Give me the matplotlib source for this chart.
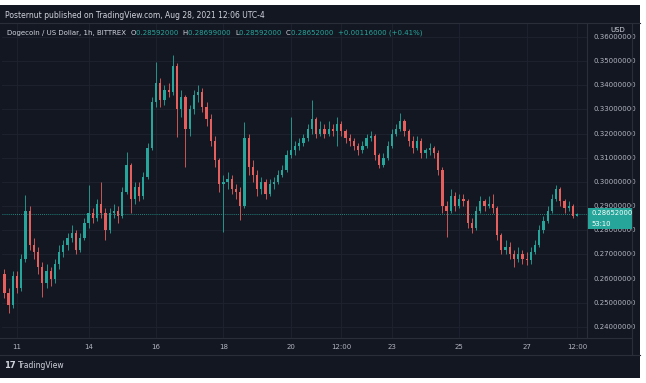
import numpy as np
import matplotlib
matplotlib.use("Agg")
import matplotlib.pyplot as plt
from matplotlib.patches import Rectangle
from matplotlib.transforms import blended_transform_factory

# 3-hour candles, hours relative to Aug 14 00:00
first_open = 0.262
close = [0.254, 0.249, 0.261, 0.256, 0.268, 0.288, 0.274, 0.271, 0.265, 0.258,
         0.263, 0.260, 0.266, 0.271, 0.274, 0.277, 0.279, 0.272, 0.277, 0.283,
         0.287, 0.285, 0.291, 0.287, 0.280, 0.287, 0.288, 0.286, 0.296, 0.307,
         0.293, 0.298, 0.294, 0.302, 0.314, 0.333, 0.341, 0.334, 0.338, 0.337,
         0.348, 0.330, 0.335, 0.322, 0.330, 0.336, 0.337, 0.331, 0.326, 0.317,
         0.309, 0.299, 0.300, 0.301, 0.297, 0.296, 0.290, 0.318, 0.306, 0.303,
         0.297, 0.300, 0.295, 0.299, 0.300, 0.303, 0.305, 0.311, 0.313, 0.315,
         0.316, 0.318, 0.322, 0.326, 0.320, 0.322, 0.320, 0.322, 0.321, 0.324,
         0.321, 0.318, 0.317, 0.315, 0.313, 0.315, 0.318, 0.319, 0.311, 0.307,
         0.310, 0.315, 0.320, 0.322, 0.325, 0.321, 0.317, 0.314, 0.317, 0.312,
         0.313, 0.314, 0.312, 0.305, 0.290, 0.288, 0.294, 0.290, 0.293, 0.292,
         0.283, 0.281, 0.288, 0.292, 0.290, 0.291, 0.289, 0.278, 0.272, 0.273,
         0.270, 0.268, 0.270, 0.268, 0.2675, 0.271, 0.274, 0.280, 0.284, 0.288,
         0.293, 0.297, 0.292, 0.289, 0.290, 0.28592, 0.28652]
high = [0.264, 0.256, 0.263, 0.263, 0.270, 0.2946, 0.290, 0.277, 0.273, 0.267,
        0.266, 0.265, 0.268, 0.274, 0.276, 0.279, 0.2822, 0.280, 0.279, 0.285,
        0.2987, 0.289, 0.293, 0.300, 0.289, 0.289, 0.291, 0.290, 0.298, 0.3124,
        0.308, 0.300, 0.300, 0.304, 0.316, 0.335, 0.3496, 0.343, 0.340, 0.341,
        0.3525, 0.349, 0.338, 0.336, 0.332, 0.338, 0.340, 0.339, 0.333, 0.328,
        0.319, 0.310, 0.303, 0.304, 0.303, 0.299, 0.298, 0.3248, 0.320, 0.309,
        0.305, 0.302, 0.301, 0.301, 0.302, 0.305, 0.307, 0.313, 0.3268, 0.317,
        0.318, 0.320, 0.324, 0.334, 0.327, 0.325, 0.324, 0.325, 0.324, 0.327,
        0.325, 0.322, 0.320, 0.318, 0.316, 0.317, 0.320, 0.321, 0.320, 0.312,
        0.312, 0.317, 0.322, 0.324, 0.3285, 0.326, 0.322, 0.319, 0.319, 0.318,
        0.314, 0.316, 0.315, 0.313, 0.306, 0.292, 0.297, 0.296, 0.295, 0.295,
        0.293, 0.285, 0.290, 0.294, 0.293, 0.294, 0.295, 0.290, 0.279, 0.276,
        0.275, 0.272, 0.273, 0.272, 0.271, 0.273, 0.276, 0.282, 0.286, 0.290,
        0.295, 0.2987, 0.298, 0.293, 0.292, 0.291, 0.28699]
low = [0.252, 0.2458, 0.248, 0.254, 0.255, 0.267, 0.272, 0.268, 0.262, 0.2524,
       0.256, 0.257, 0.258, 0.264, 0.269, 0.272, 0.275, 0.270, 0.271, 0.276,
       0.281, 0.283, 0.284, 0.285, 0.276, 0.279, 0.285, 0.283, 0.285, 0.295,
       0.287, 0.291, 0.292, 0.293, 0.301, 0.313, 0.331, 0.331, 0.332, 0.335,
       0.336, 0.3186, 0.327, 0.306, 0.319, 0.328, 0.333, 0.329, 0.323, 0.315,
       0.306, 0.296, 0.2793, 0.297, 0.295, 0.293, 0.2842, 0.289, 0.303, 0.300,
       0.294, 0.295, 0.293, 0.294, 0.297, 0.299, 0.302, 0.304, 0.310, 0.311,
       0.313, 0.315, 0.317, 0.320, 0.318, 0.319, 0.318, 0.319, 0.319, 0.315,
       0.319, 0.316, 0.315, 0.313, 0.311, 0.312, 0.314, 0.317, 0.309, 0.3058,
       0.306, 0.309, 0.314, 0.319, 0.321, 0.319, 0.315, 0.312, 0.313, 0.310,
       0.310, 0.311, 0.310, 0.303, 0.287, 0.2772, 0.287, 0.288, 0.289, 0.290,
       0.281, 0.279, 0.280, 0.287, 0.288, 0.289, 0.287, 0.276, 0.270, 0.270,
       0.268, 0.2648, 0.267, 0.266, 0.2655, 0.266, 0.270, 0.273, 0.279, 0.283,
       0.287, 0.292, 0.290, 0.287, 0.288, 0.285, 0.28592]
start_hour = -60
step_hours = 3

tick_hours = [-51, 0, 48, 96, 144, 180, 216, 264, 312, 348]
tick_labels = ["11", "14", "16", "18", "20", "12:00", "23", "25", "27", "12:00"]
price_ticks = [0.24, 0.25, 0.26, 0.27, 0.28, 0.29, 0.30, 0.31, 0.32, 0.33, 0.34, 0.35, 0.36]
last_price = 0.28652

BG = "#131722"
GRID = "#1f2330"
TXT = "#b2b5be"
UP = "#26a69a"
DOWN = "#e5605d"

W, H = 646, 383
fig = plt.figure(figsize=(W / 100, H / 100), dpi=100, facecolor="white")

# dark panel behind everything
fig.patches.append(Rectangle((0, 5 / H), 640 / W, (378 - 5) / H, transform=fig.transFigure,
                             facecolor=BG, edgecolor="none", zorder=-5))

ax = fig.add_axes([2 / W, 1 - 338 / H, (587 - 2) / W, (338 - 23) / H])
ax.set_facecolor(BG)

closes = np.array(close)
opens = np.concatenate([[first_open], closes[:-1]])
highs = np.array(high)
lows = np.array(low)
t = start_hour + step_hours * np.arange(len(closes))
up = closes >= opens
colors = np.where(up, UP, DOWN)

ax.vlines(t, lows, highs, colors=colors, linewidth=0.6, zorder=3)
body_h = np.maximum(np.abs(closes - opens), 0.0003)
ax.bar(t, body_h, bottom=np.minimum(opens, closes), width=1.6, color=colors,
       linewidth=0, zorder=4)

ax.set_xlim(-61.7, 355)
ax.set_ylim(0.23544, 0.36572)

for p in price_ticks:
    ax.axhline(p, color=GRID, linewidth=0.6, zorder=1)
for h in tick_hours:
    ax.axvline(h, color=GRID, linewidth=0.6, zorder=1)

ax.axhline(last_price, color=UP, linewidth=0.6, linestyle=(0, (1, 1.5)), zorder=2)

ax.set_xticks([])
ax.set_yticks([])
for s in ax.spines.values():
    s.set_visible(False)

# price axis labels
tr = blended_transform_factory(ax.transAxes, ax.transData)
for p in price_ticks:
    ax.text(1.0 + 6 / 585, p, f"{p:.8f}", transform=tr, color=TXT, fontsize=5.0,
            va="center", ha="left", clip_on=False)
ax.text(1.0 + 23 / 585, 0.3628, "USD", transform=tr, color="#d1d4dc", fontsize=5.0,
        va="center", ha="left", clip_on=False, zorder=6,
        bbox=dict(boxstyle="square,pad=0.15", facecolor=BG, edgecolor="none"))

# last price tag
fig.patches.append(Rectangle((588 / W, 1 - 229 / H), 44 / W, 21 / H, transform=fig.transFigure,
                             facecolor=UP, edgecolor="none", zorder=5))
fig.text(591 / W, 1 - 213.5 / H, f"{last_price:.8f}", color="white", fontsize=4.9,
         va="center", ha="left", zorder=6)
fig.text(591 / W, 1 - 223.5 / H, "53:10", color="white", fontsize=4.9,
         va="center", ha="left", zorder=6)

# axis separators
sep = "#2a2e39"
fig.add_artist(plt.Line2D([587 / W, 587 / W], [1 - 338 / H, 1 - 23 / H], color=sep, lw=0.8))
fig.add_artist(plt.Line2D([632 / W, 632 / W], [1 - 355 / H, 1 - 23 / H], color=sep, lw=0.8))
fig.add_artist(plt.Line2D([0, 632 / W], [1 - 338 / H, 1 - 338 / H], color=sep, lw=0.8))
fig.add_artist(plt.Line2D([0, 640 / W], [1 - 355 / H, 1 - 355 / H], color=sep, lw=0.8))
fig.add_artist(plt.Line2D([0, 640 / W], [1 - 23 / H, 1 - 23 / H], color=sep, lw=0.8))

# time axis labels
x_tr = blended_transform_factory(ax.transData, fig.transFigure)
for h, lab in zip(tick_hours, tick_labels):
    ax.text(h, 1 - 347 / H, lab, transform=x_tr, color=TXT, fontsize=5.0,
            ha="center", va="center", clip_on=False)

# header and legend
fig.text(5 / W, 1 - 15 / H, "Posternut published on TradingView.com, Aug 28, 2021 12:06 UTC-4",
         color="#d1d4dc", fontsize=5.5, va="center", ha="left")
legend_parts = [("Dogecoin / US Dollar, 1h, BITTREX  ", "#d1d4dc"),
                ("O", "#d1d4dc"), ("0.28592000  ", UP),
                ("H", "#d1d4dc"), ("0.28699000  ", UP),
                ("L", "#d1d4dc"), ("0.28592000  ", UP),
                ("C", "#d1d4dc"), ("0.28652000  ", UP),
                ("+0.00116000 (+0.41%)", UP)]
x0 = 7
renderer = fig.canvas.get_renderer()
for txt, col in legend_parts:
    tt = fig.text(x0 / W, 1 - 33 / H, txt, color=col, fontsize=5.0, va="center", ha="left")
    x0 += tt.get_window_extent(renderer).width

# footer logo
fig.text(4 / W, 1 - 366 / H, "17", color="#d1d4dc", fontsize=6.0, fontweight="bold",
         va="center", ha="left")
fig.text(18 / W, 1 - 366 / H, "TradingView", color="#d1d4dc", fontsize=5.5,
         va="center", ha="left")

fig.savefig("out.png", dpi=100, facecolor="white")
